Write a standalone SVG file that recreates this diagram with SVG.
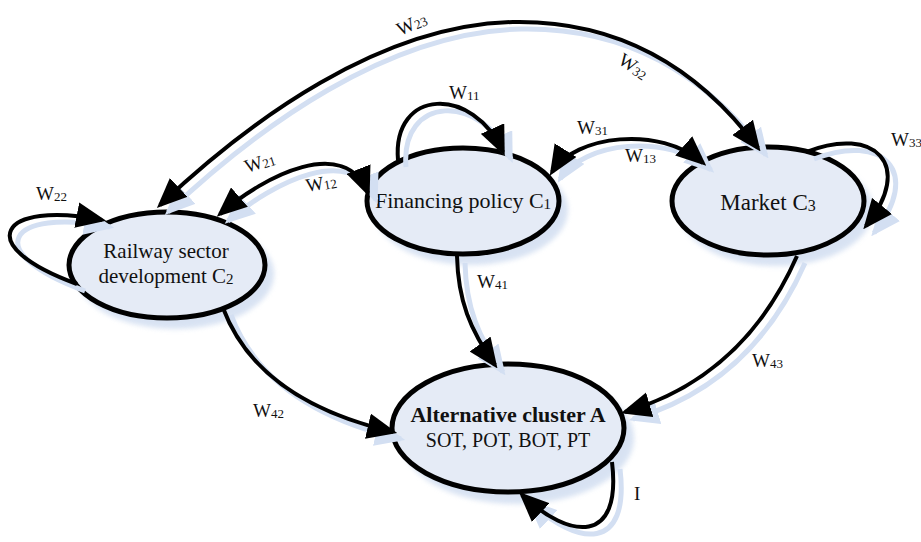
<svg xmlns="http://www.w3.org/2000/svg" width="921" height="542" viewBox="0 0 921 542">
<style>
.nd{fill:#e5ebf6;stroke:#000;stroke-width:5}
.ns{fill:#cfdcf0;opacity:0.8}
.c{fill:none;stroke:#000;stroke-width:4}
.s{fill:none;stroke:#d3dff2;stroke-width:5}
.t{font-family:"Liberation Serif","DejaVu Serif",serif;fill:#111}
.lb{font-family:"Liberation Serif","DejaVu Serif",serif;font-size:19px;fill:#111}
.sub{font-size:13px}
</style>
<defs>
<filter id="bl" x="-20%" y="-20%" width="140%" height="140%"><feGaussianBlur stdDeviation="2.5"/></filter>
<marker id="ah" markerUnits="userSpaceOnUse" markerWidth="30" markerHeight="26" refX="24" refY="12" orient="auto-start-reverse" viewBox="0 0 28 24"><path d="M0,0 L28,12 L0,24 Z" fill="#000"/></marker>
<marker id="as" markerUnits="userSpaceOnUse" markerWidth="30" markerHeight="26" refX="24" refY="12" orient="auto-start-reverse" viewBox="0 0 28 24"><path d="M0,0 L28,12 L0,24 Z" fill="#d3dff2"/></marker>
</defs>
<rect width="921" height="542" fill="#fff"/>

<g id="node-c2">
<ellipse class="ns" cx="175" cy="274" rx="99" ry="55" filter="url(#bl)"/>
<ellipse class="nd" cx="167" cy="265" rx="98" ry="53"/>
<text class="t" font-size="21" text-anchor="middle" x="166" y="258">Railway sector</text>
<text class="t" font-size="21" text-anchor="middle" x="166" y="283">development C<tspan font-size="15" dy="1">2</tspan></text>
</g>
<g id="node-c1">
<ellipse class="ns" cx="471" cy="210" rx="97" ry="55" filter="url(#bl)"/>
<ellipse class="nd" cx="463" cy="201" rx="96" ry="53"/>
<text class="t" font-size="22" text-anchor="middle" x="463" y="208">Financing policy C<tspan font-size="15" dy="1">1</tspan></text>
</g>
<g id="node-c3">
<ellipse class="ns" cx="776" cy="210" rx="97" ry="56" filter="url(#bl)"/>
<ellipse class="nd" cx="768" cy="201" rx="96" ry="54"/>
<text class="t" font-size="23" text-anchor="middle" x="768" y="210">Market C<tspan font-size="16" dy="1">3</tspan></text>
</g>
<g id="node-a">
<ellipse class="ns" cx="517" cy="438" rx="117" ry="66" filter="url(#bl)"/>
<ellipse class="nd" cx="508" cy="428" rx="116" ry="64"/>
<text class="t" font-size="22" font-weight="bold" text-anchor="middle" x="508" y="422">Alternative cluster A</text>
<text class="t" font-size="20" text-anchor="middle" x="508" y="447">SOT, POT, BOT, PT</text>
</g>

<g id="connector-shadows" transform="translate(8,7)">
<path class="s" marker-start="url(#as)" marker-end="url(#as)" d="M160,205 C250,120 380,25 513,22 C620,20 700,70 758,148"/>
<path class="s" marker-start="url(#as)" marker-end="url(#as)" d="M220,214 C265,175 345,135 368,193"/>
<path class="s" marker-end="url(#as)" d="M398,160 C392,88 473,85 503,152"/>
<path class="s" marker-start="url(#as)" marker-end="url(#as)" d="M552,172 C575,135 660,125 703,163"/>
<path class="s" marker-end="url(#as)" d="M806,152 C875,125 915,165 866,226"/>
<path class="s" marker-end="url(#as)" d="M77,284 C-30,245 0,200 102,220"/>
<path class="s" marker-end="url(#as)" d="M457,256 C458,300 470,330 495,365"/>
<path class="s" marker-end="url(#as)" d="M223,308 C250,380 320,415 393,432"/>
<path class="s" marker-end="url(#as)" d="M797,256 C760,340 700,390 625,412"/>
<path class="s" marker-end="url(#as)" d="M612,462 C622,545 570,540 522,495"/>
</g>

<g id="connectors">
<path class="c" marker-start="url(#ah)" marker-end="url(#ah)" d="M160,205 C250,120 380,25 513,22 C620,20 700,70 758,148"/>
<path class="c" marker-start="url(#ah)" marker-end="url(#ah)" d="M220,214 C265,175 345,135 368,193"/>
<path class="c" marker-end="url(#ah)" d="M398,160 C392,88 473,85 503,152"/>
<path class="c" marker-start="url(#ah)" marker-end="url(#ah)" d="M552,172 C575,135 660,125 703,163"/>
<path class="c" marker-end="url(#ah)" d="M806,152 C875,125 915,165 866,226"/>
<path class="c" marker-end="url(#ah)" d="M77,284 C-30,245 0,200 102,220"/>
<path class="c" marker-end="url(#ah)" d="M457,256 C458,300 470,330 495,365"/>
<path class="c" marker-end="url(#ah)" d="M223,308 C250,380 320,415 393,432"/>
<path class="c" marker-end="url(#ah)" d="M797,256 C760,340 700,390 625,412"/>
<path class="c" marker-end="url(#ah)" d="M612,462 C622,545 570,540 522,495"/>

<text class="lb" transform="translate(400,36) rotate(-24)">W<tspan class="sub" dy="1">23</tspan></text>
<text class="lb" transform="translate(617,63) rotate(33)">W<tspan class="sub" dy="1">32</tspan></text>
<text class="lb" x="449" y="99">W<tspan class="sub" dy="1">11</tspan></text>
<text class="lb" transform="translate(247,173) rotate(-18)">W<tspan class="sub" dy="1">21</tspan></text>
<text class="lb" transform="translate(307,192) rotate(-10)">W<tspan class="sub" dy="1">12</tspan></text>
<text class="lb" x="577" y="134">W<tspan class="sub" dy="1">31</tspan></text>
<text class="lb" x="625" y="162">W<tspan class="sub" dy="1">13</tspan></text>
<text class="lb" x="891" y="146">W<tspan class="sub" dy="1">33</tspan></text>
<text class="lb" x="36" y="200">W<tspan class="sub" dy="1">22</tspan></text>
<text class="lb" x="477" y="288">W<tspan class="sub" dy="1">41</tspan></text>
<text class="lb" x="253" y="417">W<tspan class="sub" dy="1">42</tspan></text>
<text class="lb" x="752" y="367">W<tspan class="sub" dy="1">43</tspan></text>
<text class="lb" x="634" y="500">I</text>
</g>
</svg>
